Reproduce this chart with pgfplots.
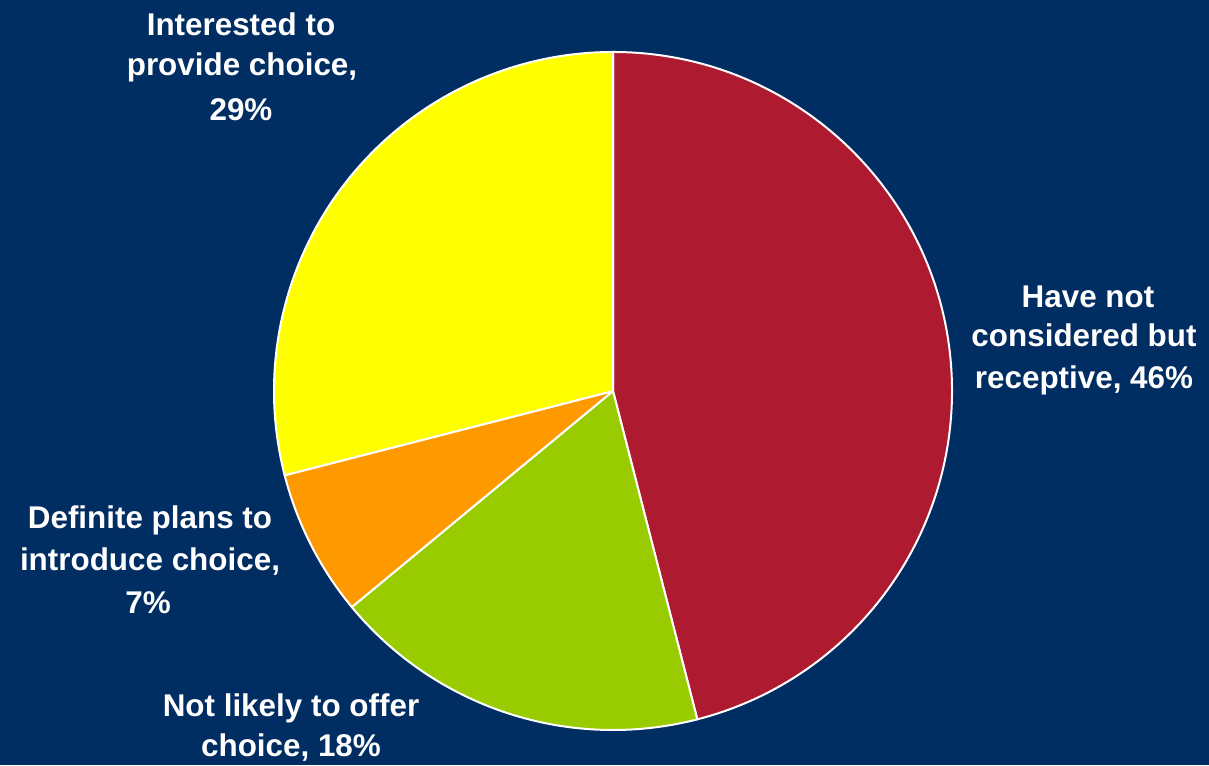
\documentclass[border=0pt]{standalone}
\usepackage{pgfplots}
\pgfplotsset{compat=1.18}
\usepackage{pgfplotstable}
\usepackage{fontspec}
\setmainfont{Liberation Sans}
\definecolor{bgblue}{RGB}{0,45,98}
\definecolor{pieRed}{RGB}{174,27,48}
\definecolor{pieGreen}{RGB}{153,204,0}
\definecolor{pieOrange}{RGB}{255,153,0}
\definecolor{pieYellow}{RGB}{255,255,0}
\tikzset{lbl/.style={text=white, anchor=base, inner sep=0pt, font=\bfseries\fontsize{15.7bp}{18bp}\selectfont}}
\pgfplotstableread{
value color
46 pieRed
18 pieGreen
7 pieOrange
29 pieYellow
}\piedata
\begin{document}
\begin{tikzpicture}
\begin{axis}[
  x=0.5bp, y=0.5bp,
  xmin=0, xmax=1209, ymin=0, ymax=765,
  hide axis, clip=false,
]
\fill[bgblue] (axis cs:0,0) coordinate (bl) rectangle (axis cs:1209,765) coordinate (tr);
\def\cum{0}
\pgfplotsforeachungrouped \i in {0,...,3}{%
  \pgfplotstablegetelem{\i}{value}\of\piedata \let\v\pgfplotsretval
  \pgfplotstablegetelem{\i}{color}\of\piedata \let\c\pgfplotsretval
  \pgfmathsetmacro\sa{90-3.6*\cum}%
  \pgfmathsetmacro\da{-3.6*\v}%
  \edef\temp{\noexpand\filldraw[fill=\c, draw=white, line width=1bp, line join=round] (axis cs:613,374) -- ++(\sa:169.5bp) arc[start angle=\sa, delta angle=\da, radius=169.5bp] -- cycle;}%
  \temp
  \pgfmathsetmacro\cum{\cum+\v}%
}
\node[lbl] at (axis cs:241,729) {Interested to};
\node[lbl] at (axis cs:242,689) {provide choice,};
\node[lbl] at (axis cs:241,644) {29\%};
\node[lbl] at (axis cs:1088,457) {Have not};
\node[lbl] at (axis cs:1084,418) {considered but};
\node[lbl] at (axis cs:1084,376) {receptive, 46\%};
\node[lbl] at (axis cs:150,237) {Definite plans to};
\node[lbl] at (axis cs:150,195) {introduce choice,};
\node[lbl] at (axis cs:148,152) {7\%};
\node[lbl] at (axis cs:291,49) {Not likely to offer};
\node[lbl] at (axis cs:291,9) {choice, 18\%};
\end{axis}
\pgfresetboundingbox
\path[use as bounding box] (bl) rectangle (tr);
\end{tikzpicture}
\end{document}
